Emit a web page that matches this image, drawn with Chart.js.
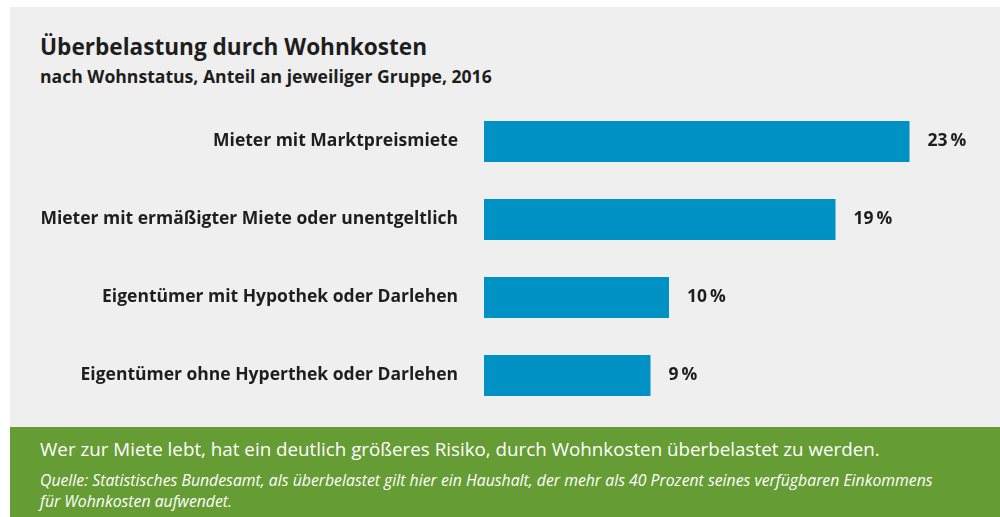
<!DOCTYPE html>
<html><head><meta charset="utf-8">
<script src="https://cdn.jsdelivr.net/npm/chart.js"></script>
<style>
html,body{margin:0;padding:0;background:#fff;}
#wrap{position:relative;width:1000px;height:517px;overflow:hidden;background:#fff;font-family:"Open Sans",sans-serif;}
#gray{position:absolute;left:10px;top:7px;width:990px;height:420px;background:#efefef;}
#green{position:absolute;left:10px;top:427px;width:990px;height:90px;background:#659c34;}
#title{position:absolute;left:40px;top:32px;font-size:22.6px;line-height:30px;font-weight:700;color:#1e1e1e;white-space:nowrap;}
#sub{position:absolute;left:40px;top:64px;font-size:17.6px;line-height:24px;font-weight:700;color:#1e1e1e;white-space:nowrap;}
#note{position:absolute;left:40px;top:436px;font-size:18.8px;line-height:26px;font-weight:400;color:#fff;white-space:nowrap;}
#src{position:absolute;left:40px;top:470px;font-size:15.8px;font-style:italic;color:#fff;line-height:20.6px;white-space:nowrap;}
#cv{position:absolute;left:10px;top:100px;}
</style></head>
<body><div id="wrap">
<div id="gray"></div><div id="green"></div>
<div id="title">Überbelastung durch Wohnkosten</div>
<div id="sub">nach Wohnstatus, Anteil an jeweiliger Gruppe, 2016</div>
<canvas id="cv" width="990" height="320" style="width:990px;height:320px"></canvas>
<div id="note">Wer zur Miete lebt, hat ein deutlich größeres Risiko, durch Wohnkosten überbelastet zu werden.</div>
<div id="src">Quelle: Statistisches Bundesamt, als überbelastet gilt hier ein Haushalt, der mehr als 40 Prozent seines verfügbaren Einkommens<br>für Wohnkosten aufwendet.</div>
</div>
<script>
const categories = [
  "Mieter mit Marktpreismiete",
  "Mieter mit ermäßigter Miete oder unentgeltlich",
  "Eigentümer mit Hypothek oder Darlehen",
  "Eigentümer ohne Hyperthek oder Darlehen"
];
const values = [23, 19, 10, 9];
const valueLabels = ["23\u2009%", "19\u2009%", "10\u2009%", "9\u2009%"];

const valueLabelPlugin = {
  id: 'valueLabels',
  afterDatasetsDraw(chart) {
    const ctx = chart.ctx;
    const meta = chart.getDatasetMeta(0);
    ctx.save();
    ctx.font = '700 17.5px "Open Sans", sans-serif';
    ctx.fillStyle = '#1e1e1e';
    ctx.textAlign = 'left';
    ctx.textBaseline = 'middle';
    meta.data.forEach((bar, i) => {
      ctx.fillText(valueLabels[i], bar.x + 18, bar.y);
    });
    ctx.restore();
  }
};

new Chart(document.getElementById('cv'), {
  type: 'bar',
  data: {
    labels: categories,
    datasets: [{
      data: values,
      backgroundColor: '#0092c4',
      borderWidth: 0,
      barPercentage: 41/78,
      categoryPercentage: 1
    }]
  },
  options: {
    indexAxis: 'y',
    responsive: false,
    animation: false,
    layout: { padding: { top: 2.5, bottom: 5.5, left: 0, right: 53.5 } },
    plugins: { legend: { display: false }, tooltip: { enabled: false }, title: { display: false } },
    scales: {
      x: { display: false, min: 0, max: 25 },
      y: {
        grid: { display: false, drawTicks: false },
        border: { display: false },
        ticks: { color: '#1e1e1e', font: { family: '"Open Sans", sans-serif', size: 17.5, weight: '700' }, padding: 26 },
        afterFit(scale) { scale.width = 474; scale.paddingTop = 0; scale.paddingBottom = 0; }
      }
    }
  },
  plugins: [valueLabelPlugin]
});
</script>
</body></html>
